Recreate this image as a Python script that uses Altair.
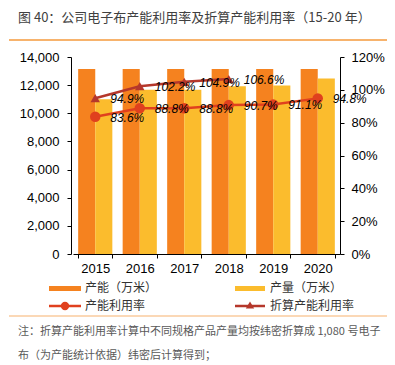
import altair as alt
import pandas as pd

years = ["2015", "2016", "2017", "2018", "2019", "2020"]
capacity = [13150, 13150, 13150, 13150, 13150, 13150]
production = [11000, 11680, 11680, 11930, 11980, 12470]
utilization = [0.836, 0.888, 0.888, 0.907, 0.911, 0.948]
conv_years = ["2015", "2016", "2017", "2018"]
converted = [0.949, 1.022, 1.049, 1.066]

s_cap = "产能（万米）"
s_prod = "产量（万米）"
s_util = "产能利用率"
s_conv = "折算产能利用率"

title_text = "图 40：公司电子布产能利用率及折算产能利用率（15-20 年）"
note1 = "注：折算产能利用率计算中不同规格产品产量均按纬密折算成 1,080 号电子"
note2 = "布（为产能统计依据）纬密后计算得到；"

C_CAP = "#F5821F"
C_PROD = "#FBBC2D"
C_UTIL = "#E0401E"
C_CONV = "#B5372B"
CJK = "Noto Sans CJK SC"
LAT = "Liberation Sans"

df_bars = pd.DataFrame(
    {"year": years * 2,
     "series": [s_cap] * 6 + [s_prod] * 6,
     "value": capacity + production}
)
df_util = pd.DataFrame({"year": years, "value": utilization})
df_conv = pd.DataFrame({"year": conv_years, "value": converted})

xenc = alt.X(
    "year:N", sort=years, title=None,
    scale=alt.Scale(paddingInner=0.232, paddingOuter=0.116),
    axis=alt.Axis(labelAngle=0, tickBand="extent", tickSize=4, labelPadding=4,
                  domainColor="#000", tickColor="#000", labelColor="#000",
                  labelFont=LAT, labelFontSize=13, grid=False),
)

bars = alt.Chart(df_bars).mark_bar().encode(
    x=xenc,
    xOffset=alt.XOffset("series:N", sort=[s_cap, s_prod], scale=alt.Scale(paddingInner=0, paddingOuter=0)),
    y=alt.Y("value:Q", title=None,
            scale=alt.Scale(domain=[0, 14000], nice=False),
            axis=alt.Axis(orient="left", values=list(range(0, 14001, 2000)), format=",.0f",
                          offset=2, tickSize=4, labelPadding=8, grid=False,
                          domainColor="#000", tickColor="#000", labelColor="#000",
                          labelFont=LAT, labelFontSize=13)),
    color=alt.Color("series:N", scale=alt.Scale(domain=[s_cap, s_prod], range=[C_CAP, C_PROD]), legend=None),
)

yr = alt.Y("value:Q", title=None,
           scale=alt.Scale(domain=[0, 1.2], nice=False),
           axis=alt.Axis(orient="right", values=[0, 0.2, 0.4, 0.6, 0.8, 1.0, 1.2], format=".0%",
                         tickSize=4, labelPadding=7, grid=False,
                         domainColor="#000", tickColor="#000", labelColor="#000",
                         labelFont=LAT, labelFontSize=13))
xl = alt.X("year:N", sort=years)

conv_line = alt.Chart(df_conv).mark_line(color=C_CONV, strokeWidth=2.5).encode(x=xl, y=yr)
conv_pts = alt.Chart(df_conv).mark_point(shape="triangle-up", filled=True, color=C_CONV, size=90, opacity=1).encode(x=xl, y=yr)
util_line = alt.Chart(df_util).mark_line(color=C_UTIL, strokeWidth=2.5).encode(x=xl, y=yr)
util_pts = alt.Chart(df_util).mark_point(shape="circle", filled=True, color=C_UTIL, size=110, opacity=1).encode(x=xl, y=yr)
lab_kw = dict(align="left", baseline="middle", dx=15, dy=1, font=LAT, fontSize=12, fontStyle="italic", color="#000")
conv_lab = alt.Chart(df_conv).mark_text(**lab_kw).encode(x=xl, y=yr, text=alt.Text("value:Q", format=".1%"))
util_lab = alt.Chart(df_util).mark_text(**lab_kw).encode(x=xl, y=yr, text=alt.Text("value:Q", format=".1%"))

lines = alt.layer(conv_line, util_line, conv_pts, util_pts, conv_lab, util_lab)

one = pd.DataFrame({"a": [0]})

def txt(s, x, y, size, color, font=CJK):
    return alt.Chart(pd.DataFrame({"t": [s]})).mark_text(
        align="left", baseline="middle", font=font, fontSize=size, color=color
    ).encode(x=alt.value(x), y=alt.value(y), text="t:N")

def hrule(x1, x2, y, color, w):
    return alt.Chart(one).mark_rule(color=color, strokeWidth=w).encode(
        x=alt.value(x1), x2=alt.value(x2), y=alt.value(y))

deco = [
    txt(title_text, -55, -39, 13, "#404040"),
    hrule(-64, 314, -17, "#F59A3C", 1.5),
    alt.Chart(one).mark_rect(color=C_CAP).encode(x=alt.value(-24), x2=alt.value(8), y=alt.value(229), y2=alt.value(234)),
    txt(s_cap, 12, 231, 12, "#333"),
    alt.Chart(one).mark_rect(color=C_PROD).encode(x=alt.value(162), x2=alt.value(192), y=alt.value(229), y2=alt.value(234)),
    txt(s_prod, 197, 231, 12, "#333"),
    hrule(-24, 8, 249, C_UTIL, 2.5),
    alt.Chart(one).mark_point(shape="circle", filled=True, color=C_UTIL, size=70, opacity=1).encode(x=alt.value(-8), y=alt.value(249)),
    txt(s_util, 12, 249, 12, "#333"),
    hrule(162, 192, 249, C_CONV, 2.5),
    alt.Chart(one).mark_point(shape="triangle-up", filled=True, color=C_CONV, size=70, opacity=1).encode(x=alt.value(177), y=alt.value(248)),
    txt(s_conv, 197, 249, 12, "#333"),
    hrule(-64, 314, 259, "#FACB9E", 1.5),
    txt(note1, -55, 275, 11, "#595959"),
    txt(note2, -55, 299, 11, "#595959"),
]

chart = alt.layer(bars, lines, *deco).resolve_scale(y="independent").properties(
    width=267, height=197,
    autosize=alt.AutoSizeParams(type="none"),
    padding={"left": 65, "top": 49, "right": 47, "bottom": 109},
).configure_view(stroke=None)

chart.save("out.html", embed_options={"renderer": "svg", "actions": False})
